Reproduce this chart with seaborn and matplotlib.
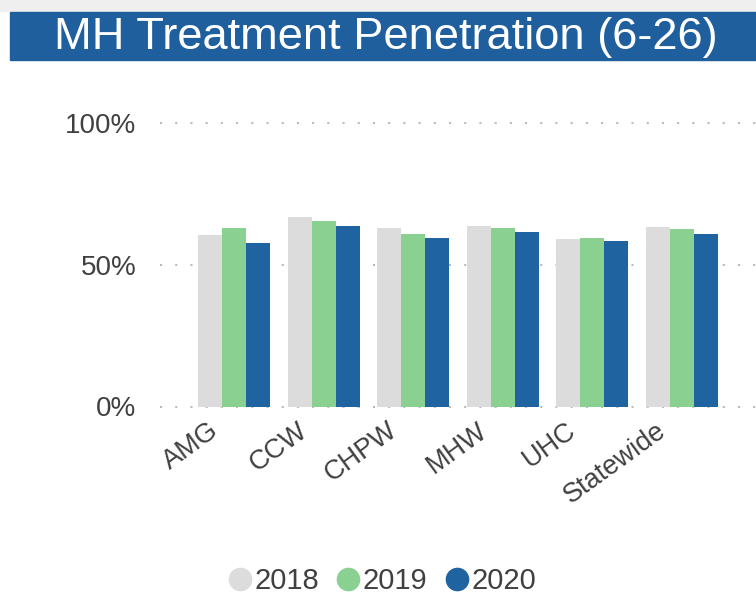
import pandas as pd
import matplotlib.pyplot as plt
import matplotlib.transforms as mtransforms
from matplotlib.lines import Line2D
from matplotlib.patches import Rectangle
import seaborn as sns

# Data
plans = ['AMG', 'CCW', 'CHPW', 'MHW', 'UHC', 'Statewide']
years = ['2018', '2019', '2020']
rate_2018 = [0.604, 0.670, 0.629, 0.637, 0.590, 0.635]
rate_2019 = [0.629, 0.656, 0.610, 0.629, 0.596, 0.628]
rate_2020 = [0.579, 0.637, 0.596, 0.617, 0.584, 0.609]
ytick_vals = [0, 0.5, 1.0]
ytick_labels = ['0%', '50%', '100%']
colors = ['#DCDCDC', '#8AD191', '#1F64A0']

df = pd.DataFrame({
    'plan': plans * 3,
    'year': [y for y in years for _ in plans],
    'rate': rate_2018 + rate_2019 + rate_2020,
})

sns.set_style('white')
plt.rcParams['font.family'] = ['Liberation Sans', 'DejaVu Sans']

W, H = 756, 595
fig = plt.figure(figsize=(W / 100, H / 100), dpi=100)

# header strip and title banner
fig.patches.append(Rectangle((0, 1 - 11 / H), 1, 11 / H, transform=fig.transFigure,
                             color='#EFEFEF', zorder=0))
fig.patches.append(Rectangle((10 / W, 1 - 60 / H), 1 - 10 / W, 48 / H, transform=fig.transFigure,
                             color='#1F5F9E', zorder=1))
fig.text(386 / W, 1 - 37 / H, 'MH Treatment Penetration (6-26)', color='white',
         fontsize=32.6, ha='center', va='center')

ax = fig.add_axes([160 / W, 1 - 406.5 / H, 1 - 160 / W, (406.5 - 123.3) / H])
sns.barplot(data=df, x='plan', y='rate', hue='year', palette=colors,
            width=0.8, linewidth=0, saturation=1, legend=False, ax=ax, zorder=3)

ax.set_xlim(-0.83, 5.83)
ax.set_ylim(0, 1)
for v in ytick_vals:
    ax.axhline(v, color='#BBBBBB', linewidth=1.5, linestyle=(0, (1, 6.3)),
               clip_on=False, zorder=1)
sns.despine(ax=ax, left=True, bottom=True)
ax.set_xlabel('')
ax.set_ylabel('')
ax.set_yticks(ytick_vals)
ax.set_yticklabels(ytick_labels)
ax.tick_params(axis='y', length=0, pad=17, labelsize=20, labelcolor='#404040')
ax.tick_params(axis='x', length=0, pad=8, labelsize=19.5, labelcolor='#404040')
offset = mtransforms.ScaledTranslation(-11 / 100, 0, fig.dpi_scale_trans)
for lab in ax.get_xticklabels():
    lab.set_rotation(36)
    lab.set_ha('right')
    lab.set_va('top')
    lab.set_transform(lab.get_transform() + offset)

handles = [Line2D([], [], marker='o', linestyle='', markersize=16,
                  markerfacecolor=c, markeredgecolor=c) for c in colors]
fig.legend(handles, years, loc='center', bbox_to_anchor=(382 / W, 1 - 581 / H), ncol=3,
           frameon=False, fontsize=21, handlelength=0.8, handletextpad=0.1,
           columnspacing=0.6, labelcolor='#404040')

fig.savefig('out.png', dpi=100)
